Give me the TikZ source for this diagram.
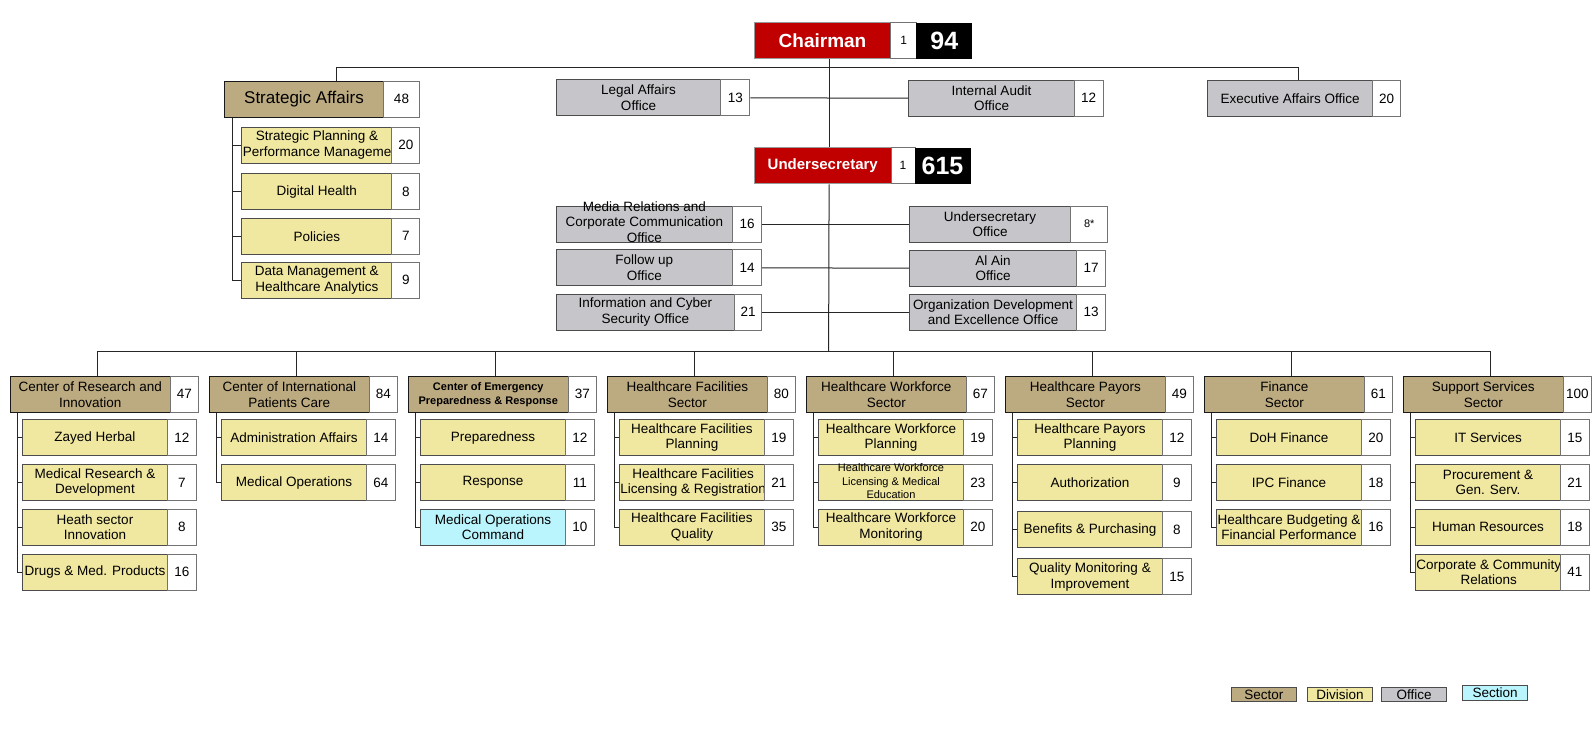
\documentclass[tikz,border=0pt]{standalone}
\usepackage{fontspec}
\setmainfont{Liberation Sans}
\definecolor{sectortan}{HTML}{BCAA80}
\definecolor{divyellow}{HTML}{F0E7A0}
\definecolor{officegray}{HTML}{C6C6CA}
\definecolor{sectioncyan}{HTML}{BAF4FC}
\definecolor{headred}{HTML}{C00000}
\newcommand{\unitfont}{\fontsize{13.5}{15.7}\selectfont}
\newcommand{\smallfont}{\fontsize{11}{13.5}\selectfont}
\newcommand{\smallbold}{\bfseries\fontsize{11}{13.5}\selectfont}
\newcommand{\squeeze}[1]{\raisebox{-3pt}[0pt][0pt]{\begin{tabular}{@{}c@{}}#1\end{tabular}}}
\tikzstyle{unit}=[draw=black!70, line width=1pt, minimum height=36pt, inner sep=1pt, anchor=north west, align=center, font=\unitfont]
\tikzstyle{sector}=[unit, fill=sectortan, draw=black!90, line width=1.4pt]
\tikzstyle{office}=[unit, fill=officegray]
\tikzstyle{count}=[unit, fill=white, draw=black!55]
\tikzstyle{head}=[unit, fill=headred, draw=black!40, text=white, font=\bfseries\fontsize{19}{22}\selectfont]
\tikzstyle{total}=[unit, fill=black, draw=none, text=white, font=\bfseries\fontsize{25}{28}\selectfont]
\tikzstyle{key}=[unit, minimum height=14.6pt, minimum width=64.5pt, inner sep=0pt]
\tikzstyle{link}=[draw=black!85, line width=1pt]

\begin{document}
\begin{tikzpicture}[x=1pt,y=-1pt]
  \useasboundingbox[fill=white] (0,0) rectangle (1596,732);

  % top of the chart
  \node[head, minimum width=136.8pt] (chair) at (753.6,22) {Chairman};
  \node[count, minimum width=25.5pt, font=\fontsize{12}{14}\selectfont] (chair-n) at (890.4,22) {1};
  \node[total, minimum width=55.8pt] (chair-t) at (915.9,22) {94};
  \node[head, minimum width=136.5pt, font=\bfseries\fontsize{15}{18}\selectfont] (usec) at (754,147.3) {Undersecretary};
  \node[count, minimum width=24pt, font=\fontsize{12}{14}\selectfont] (usec-n) at (890.5,147.3) {1};
  \node[total, minimum width=56pt] (usec-t) at (914,147.3) {615};
  \coordinate (sbar) at (828.6,351);

  \draw[link] ([xshift=6.6pt]chair.south) -- ([xshift=6.35pt]usec.north);
  \draw[link] ([xshift=6.35pt]usec.south) -- (sbar);

  \foreach \name/\lbl/\num/\x/\y/\w/\nw in {
    legal/{Legal Affairs\\Office}/13/555.6/79.3/164.8/29,
    audit/{Internal Audit\\Office}/12/908.4/79.7/165.2/29,
    exec/{Executive Affairs Office}/20/1207.4/80/164.3/28.7,
    media/{\squeeze{Media Relations and\\Corporate Communication\\Office}}/16/555.6/205.7/176.4/29,
    follow/{Follow up\\Office}/14/555.6/249.3/176.4/29,
    infosec/{Information and Cyber\\Security Office}/21/555.6/293.7/178.4/27,
    usoffice/{Undersecretary\\Office}/{\fontsize{11}{13}\selectfont 8*}/908.8/205.7/161.5/37,
    alain/{Al Ain\\Office}/17/908.8/249.7/167.6/28.2,
    orgdev/{Organization Development\\and Excellence Office}/13/908.8/293.7/167.6/28.2}
  {
    \node[office, minimum width=\w pt] (O-\name) at (\x,\y) {\lbl};
    \node[count, minimum width=\nw pt] (O-\name-n) at (\x+\w,\y) {\num};
  }

  \draw[link] (O-legal-n.east) -- (O-audit.west);
  \draw[link] (O-media-n.east) -- (O-usoffice.west);
  \draw[link] (O-follow-n.east) -- (O-alain.west);
  \draw[link] (O-infosec-n.east) -- (O-orgdev.west);

  % strategic affairs
  \node[sector, minimum width=158.6pt, font=\fontsize{17}{20}\selectfont] (SA) at (224,80.7) {Strategic Affairs};
  \node[count, minimum width=36.8pt] (SA-n) at (382.6,80.7) {48};
  \draw[link] ([xshift=32.7pt]SA.north) -- ++(0,-13) -| ([xshift=8.5pt]O-exec.north);

  \foreach \name/\lbl/\num/\y in {
    plan/{Strategic Planning \&\\Performance Manageme}/20/126.7,
    digital/Digital Health/8/173.3,
    policies/Policies/7/217.7,
    data/{Data Management \&\\Healthcare Analytics}/9/261.7}
  {
    \node[unit, fill=divyellow, minimum width=150pt] (SA-\name) at (241.3,\y) {\lbl};
    \node[count, minimum width=28pt] (SA-\name-n) at (391.3,\y) {\num};
    \draw[link] ([xshift=8pt]SA.south west) |- (SA-\name.west);
  }

  % sectors
  \foreach \i/\name/\fnt/\lbl/\num in {
    0/research/\unitfont/{Center of Research and\\Innovation}/47,
    1/ipc/\unitfont/{Center of International\\Patients Care}/84,
    2/emergency/\smallbold/{Center of Emergency\\Preparedness \& Response}/37,
    3/facilities/\unitfont/{Healthcare Facilities\\Sector}/80,
    4/workforce/\unitfont/{Healthcare Workforce\\Sector}/67,
    5/payors/\unitfont/{Healthcare Payors\\Sector}/49,
    6/finance/\unitfont/{Finance\\Sector}/61,
    7/support/\unitfont/{Support Services\\Sector}/100}
  {
    \pgfmathsetmacro\L{9.6+199*\i}
    \node[sector, font=\fnt, minimum width=160pt] (S-\name) at (\L,375.7) {\lbl};
    \node[count, minimum width=28.5pt] (S-\name-n) at (\L+160,375.7) {\num};
    \draw[link] ([xshift=7.2pt]S-\name.north) |- (sbar);
  }

  % divisions and sections
  \foreach \s/\p/\r/\name/\col/\fnt/\lbl/\num in {
    0/research/419/zayed/divyellow/\unitfont/Zayed Herbal/12,
    0/research/464/mrd/divyellow/\unitfont/{Medical Research \&\\Development}/7,
    0/research/508.7/hsi/divyellow/\unitfont/{Heath sector\\Innovation}/8,
    0/research/553.7/drugs/divyellow/\unitfont/{Drugs \& Med. Products}/16,
    1/ipc/419/admin/divyellow/\unitfont/{Administration Affairs}/14,
    1/ipc/464/medops/divyellow/\unitfont/{Medical Operations}/64,
    2/emergency/419/prep/divyellow/\unitfont/Preparedness/12,
    2/emergency/464/response/divyellow/\unitfont/Response/11,
    2/emergency/508.7/moc/sectioncyan/\unitfont/{Medical Operations\\Command}/10,
    3/facilities/419/hfplan/divyellow/\unitfont/{Healthcare Facilities\\Planning}/19,
    3/facilities/464/hflic/divyellow/\unitfont/{Healthcare Facilities\\Licensing \& Registration}/21,
    3/facilities/508.7/hfqual/divyellow/\unitfont/{Healthcare Facilities\\Quality}/35,
    4/workforce/419/hwplan/divyellow/\unitfont/{Healthcare Workforce\\Planning}/19,
    4/workforce/464/hwlic/divyellow/\smallfont/{\squeeze{Healthcare Workforce\\Licensing \& Medical\\Education}}/23,
    4/workforce/508.7/hwmon/divyellow/\unitfont/{Healthcare Workforce\\Monitoring}/20,
    5/payors/419/hpplan/divyellow/\unitfont/{Healthcare Payors\\Planning}/12,
    5/payors/464/auth/divyellow/\unitfont/Authorization/9,
    5/payors/511.3/benefits/divyellow/\unitfont/{Benefits \& Purchasing}/8,
    5/payors/558.3/quality/divyellow/\unitfont/{Quality Monitoring \&\\Improvement}/15,
    6/finance/419/dohfin/divyellow/\unitfont/{DoH Finance}/20,
    6/finance/464/ipcfin/divyellow/\unitfont/{IPC Finance}/18,
    6/finance/508.7/budget/divyellow/\unitfont/{Healthcare Budgeting \&\\Financial Performance}/16,
    7/support/419/it/divyellow/\unitfont/{IT Services}/15,
    7/support/464/procure/divyellow/\unitfont/{Procurement \&\\Gen. Serv.}/21,
    7/support/508.7/hr/divyellow/\unitfont/{Human Resources}/18,
    7/support/553.7/ccr/divyellow/\unitfont/{Corporate \& Community\\Relations}/41}
  {
    \pgfmathsetmacro\L{9.6+199*\s}
    \node[unit, fill=\col, font=\fnt, minimum width=145.4pt] (D-\name) at (\L+12.2,\r) {\lbl};
    \node[count, minimum width=28.4pt] (D-\name-n) at (\L+157.6,\r) {\num};
    \draw[link] ([xshift=7.6pt]S-\p.south west) |- (D-\name.west);
  }

  % legend
  \foreach \name/\col/\x/\y in {Sector/sectortan/1231/686.7, Division/divyellow/1307.3/686.7,
    Office/officegray/1381.3/686.7, Section/sectioncyan/1462.3/685.3}
    \node[key, fill=\col] (K-\name) at (\x,\y) {\name};

\end{tikzpicture}
\end{document}
